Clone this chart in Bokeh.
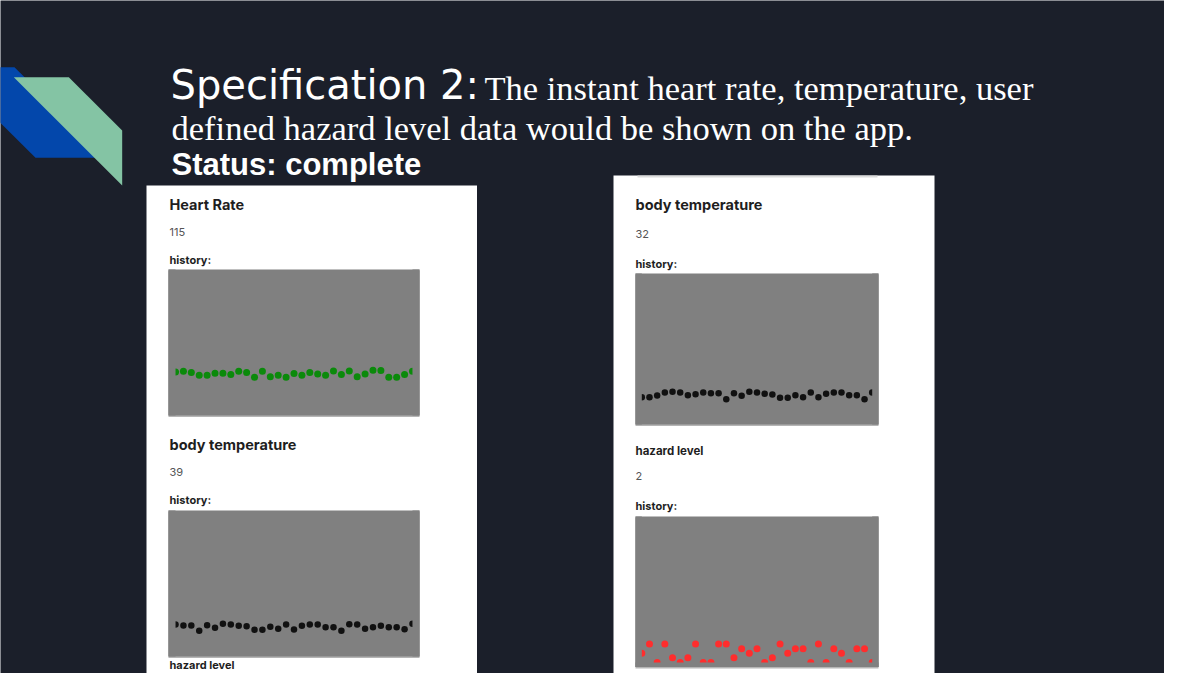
from bokeh.plotting import figure
from bokeh.models import Range1d
from bokeh.core.properties import value
from bokeh.embed import file_html
from bokeh.resources import INLINE

# ---------------- data ----------------
heart_rate_now = "115"
heart_rate_hist = [119, 121, 118, 110, 110, 116, 116, 112, 121, 118, 105, 121, 106, 110, 105, 115,
                   110, 118, 114, 110, 122, 112, 122, 106, 114, 124, 123, 105, 105, 112, 121]
temp_left_now = "39"
temp_left_hist = [41.6, 40.3, 40.3, 33.4, 40.7, 37.3, 42.5, 41.6, 39.9, 39.5, 34.7, 34.7, 38.6, 36.0,
                  41.6, 35.1, 39.9, 41.6, 41.6, 38.2, 38.2, 33.4, 42.1, 41.6, 36.0, 38.2, 39.9, 38.2,
                  38.2, 35.6, 42.5]
temp_right_now = "32"
temp_right_hist = [28.9, 28.9, 30.7, 33.9, 34.6, 33.9, 31.1, 32.1, 33.9, 33.2, 33.2, 26.8, 33.2, 30.4,
                   34.6, 33.9, 32.5, 31.8, 28.3, 28.3, 31.1, 28.9, 33.9, 28.9, 32.5, 33.9, 33.9, 31.1,
                   31.1, 26.8, 33.9]
hazard_now = "2"
hazard_hist = [2, 4, 0, 4, 1, 0, 1, 4, 0, 0, 4, 4, 1, 3, 2, 3, 0, 1, 4, 2, 3, 3, 0, 4, 0, 3, 2, 0, 3, 3, 0]

title_a = "Specification 2:"
title_b1 = "The instant heart rate, temperature, user"
title_b2 = "defined hazard level data would be shown on the app."
status = "Status: complete"

BG = "#1b1f2a"
GRAY = "#808080"
SHIFT = 0.42  # rendered baseline sits this many ems below the anchor

p = figure(width=1164, height=673, x_range=Range1d(0, 1164), y_range=Range1d(673, 0),
           output_backend="svg", toolbar_location=None, min_border=0,
           x_axis_type=None, y_axis_type=None,
           background_fill_color=BG, border_fill_color=BG, outline_line_color=None)
p.grid.visible = False

# decorative shapes
p.patch(x=[-56, 14, 105, 35], y=[66.7, 66.7, 157.3, 157.3], fill_color="#0347ab", line_color=None)
p.patch(x=[13.3, 68.3, 121.7, 121.7], y=[76.7, 76.7, 130, 185], fill_color="#84c4a4", line_color=None)


def txt(x, baseline, s, font, size, bold=False, color="white"):
    p.text(x=[x], y=[baseline - SHIFT * size], text=[s], text_font=value(font),
           text_font_size=f"{size}px", text_font_style="bold" if bold else "normal",
           text_color=color, text_baseline="alphabetic")


# title texts
txt(170, 101.5, title_a, "DejaVu Sans", 40)
txt(484, 102, title_b1, "Liberation Serif", 34.5)
txt(171, 142, title_b2, "Liberation Serif", 34.5)
txt(171, 177, status, "Liberation Sans", 31, bold=True)

# white app panels
p.quad(left=[146, 613], right=[476.5, 934], top=[185, 175], bottom=[690, 690],
       fill_color="white", line_color=None)
p.segment(x0=[637], y0=[176], x1=[877], y1=[176], line_color="#dcdcdc", line_width=2)


def label(x, baseline, s, size, bold=True, color="#1e1e1e"):
    txt(x, baseline, s, "Inter", size, bold=bold, color=color)


def history(left, right, top, bottom, values, y_lo, y_hi, x_pad, color, size, clip_bottom=False):
    p.quad(left=[left], right=[right], top=[top + 1.5], bottom=[bottom + 1.5],
           fill_color="#b5b5b5", line_color=None)
    p.quad(left=[left], right=[right], top=[top], bottom=[bottom], fill_color=GRAY, line_color=None)
    n = len(values)
    sub = p.subplot(x_source=Range1d(-x_pad, n - 1 + x_pad), y_source=Range1d(y_lo, y_hi),
                    x_target=Range1d(left, right), y_target=Range1d(bottom, top))
    sub.scatter(x=list(range(n)), y=values, size=size, fill_color=color, line_color=None)
    # clip at the inner canvas edges
    sub.quad(left=[-x_pad, n - 1], right=[0, n - 1 + x_pad], bottom=[y_lo, y_lo], top=[y_hi, y_hi],
             fill_color=GRAY, line_color=None)
    if clip_bottom:
        sub.quad(left=[-x_pad], right=[n - 1 + x_pad], bottom=[y_lo], top=[0],
                 fill_color=GRAY, line_color=None)


# left panel
label(169, 210.5, "Heart Rate", 14.5)
label(169, 236.5, heart_rate_now, 11, bold=False, color="#555555")
label(169, 264.5, "history:", 11)
history(168, 419, 269, 415, heart_rate_hist, 0, 400, 0.89, "#0b8a0b", 7)

label(169, 450.5, "body temperature", 14.5)
label(169, 476, temp_left_now, 11, bold=False, color="#555555")
label(169, 504, "history:", 11)
history(168, 419, 510, 656, temp_left_hist, 0, 190, 0.89, "#111111", 6.5)

label(169, 669, "hazard level", 11)

# right panel
label(635, 210.5, "body temperature", 14.5)
label(635, 238, temp_right_now, 11, bold=False, color="#555555")
label(635, 268, "history:", 11)
history(635, 878, 273, 424, temp_right_hist, 0, 160, 0.82, "#111111", 6.5)

label(635, 455, "hazard level", 11.5)
label(635, 480.5, hazard_now, 11, bold=False, color="#555555")
label(635, 510, "history:", 11)
history(635, 878, 516, 666.5, hazard_hist, -1, 31.8, 0.82, "#ff2d2d", 7, clip_bottom=True)

open("out.html", "w").write(file_html(p, INLINE))
